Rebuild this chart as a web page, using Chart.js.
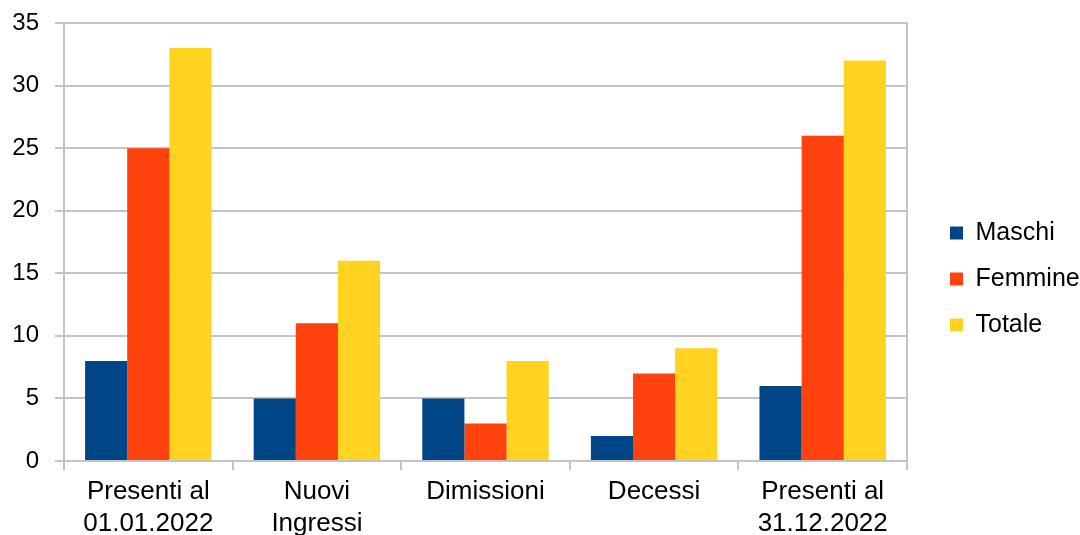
<!DOCTYPE html>
<html>
<head>
<meta charset="utf-8">
<script src="https://cdn.jsdelivr.net/npm/chart.js@4/dist/chart.umd.min.js"></script>
<style>
  html, body { margin: 0; padding: 0; background: #fff; }
  #wrap { width: 1080px; height: 535px; }
</style>
</head>
<body>
<div id="wrap"><canvas id="barChart"></canvas></div>
<script>
// dati
const categorie = [['Presenti al', '01.01.2022'], ['Nuovi', 'Ingressi'], 'Dimissioni', 'Decessi', ['Presenti al', '31.12.2022']];
const maschi = [8, 5, 5, 2, 6];
const femmine = [25, 11, 3, 7, 26];
const totale = [33, 16, 8, 9, 32];
const yTicks = [0, 5, 10, 15, 20, 25, 30, 35];

const grigio = '#c4c4c4';
Chart.defaults.font.family = '"Liberation Sans", Arial, sans-serif';
Chart.defaults.color = '#000';

const ctx = document.getElementById('barChart').getContext('2d');
const chart = new Chart(ctx, {
  type: 'bar',
  data: {
    labels: categorie,
    datasets: [
      { label: 'Maschi', data: maschi, backgroundColor: '#004586' },
      { label: 'Femmine', data: femmine, backgroundColor: '#ff420e' },
      { label: 'Totale', data: totale, backgroundColor: '#ffd320' }
    ]
  },
  options: {
    responsive: true,
    maintainAspectRatio: false,
    animation: false,
    datasets: { bar: { categoryPercentage: 0.75, barPercentage: 1 } },
    layout: { padding: { top: 23, right: 0, left: 0, bottom: 0 } },
    plugins: {
      tooltip: { enabled: false },
      legend: {
        position: 'right',
        maxWidth: 151,
        labels: { boxWidth: 13, boxHeight: 13, padding: 21, font: { size: 25 } }
      }
    },
    scales: {
      x: {
        offset: true,
        grid: {
          offset: true,
          lineWidth: 2,
          color: c => c.index === categorie.length ? grigio : 'rgba(0,0,0,0)',
          tickColor: grigio,
          tickLength: 9
        },
        border: { color: grigio, width: 2 },
        ticks: { padding: 6, font: { size: 26, lineHeight: 1.23 }, maxRotation: 0 },
        afterFit: s => { s.height = 74; }
      },
      y: {
        min: 0,
        max: 35,
        afterBuildTicks: s => { s.ticks = yTicks.map(v => ({ value: v })); },
        grid: { color: grigio, tickColor: grigio, tickLength: 9, lineWidth: 2 },
        border: { color: grigio, width: 2 },
        ticks: { padding: 16, font: { size: 24 } },
        afterFit: s => { s.width = 64; s.paddingTop = 0; s.paddingBottom = 0; }
      },
      // spazio tra area del grafico e legenda, con il bordo destro
      destra: {
        position: 'right',
        min: 0,
        max: 35,
        grid: { display: false },
        ticks: { display: false },
        border: { color: grigio, width: 2 },
        afterFit: s => { s.width = 22; }
      }
    }
  }
});
</script>
</body>
</html>
